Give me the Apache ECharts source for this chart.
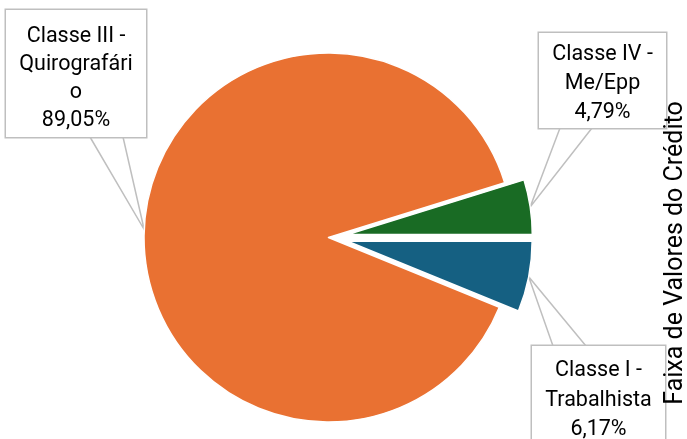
<!DOCTYPE html>
<html>
<head>
<meta charset="utf-8">
<script src="https://cdn.jsdelivr.net/npm/echarts@6/dist/echarts.min.js"></script>
<style>
html,body{margin:0;padding:0;background:#fff;}
#chart{width:687px;height:439px;}
</style>
</head>
<body>
<div id="chart"></div>
<script>
// ---- data ----
var categories = ['Classe I - Trabalhista', 'Classe III - Quirografário', 'Classe IV - Me/Epp'];
var labelTexts = ['Classe I -\nTrabalhista', 'Classe III -\nQuirografári\no', 'Classe IV -\nMe/Epp'];
var values = [6.17, 89.05, 4.79];
var colors = ['#156082', '#E97132', '#196B24'];
var exploded = [true, false, true];
var axisTitle = 'Faixa de Valores do Crédito';

// ---- layout ----
var CX = 328.5, CY = 237.5, R = 184.5, EXPLODE = 19.5;
// label boxes: left, top, width, line height, padding top/bottom, callout anchor points on box edge
var boxes = [
  {x: 531, y: 346, w: 135, lh: 29.5, pt: 10, pb: 2, a: [553, 346], b: [586, 346]},
  {x: 5, y: 10, w: 142, lh: 28, pt: 13, pb: 2, a: [90, 137], b: [123, 137]},
  {x: 538, y: 33, w: 129, lh: 29, pt: 7, pb: 1, a: [560, 128], b: [592, 128]}
];

var total = values.reduce(function (s, v) { return s + v; }, 0);
function fmtPct(v) { return v.toFixed(2).replace('.', ',') + '%'; }

var series = [];
var cum = 0;
values.forEach(function (v, i) {
  var mid = (cum + v / 2) / total * 2 * Math.PI; // clockwise from 3 o'clock
  cum += v;
  var off = exploded[i] ? EXPLODE : 0;
  var cx = CX + off * Math.cos(mid);
  var cy = CY + off * Math.sin(mid);
  var px = cx + R * Math.cos(mid);
  var py = cy + R * Math.sin(mid);
  var bx = boxes[i];
  series.push({
    type: 'pie',
    center: [cx, cy],
    radius: [0, R],
    startAngle: 0,
    clockwise: true,
    silent: true,
    animation: false,
    avoidLabelOverlap: false,
    itemStyle: {borderColor: '#ffffff', borderWidth: 1.5},
    labelLine: {show: true, length: 10, length2: 10, lineStyle: {color: '#bfbfbf', width: 1.5}},
    labelLayout: (function (bx, px, py) {
      return function (params) {
        return {
          x: bx.x + bx.w / 2, y: bx.y, align: 'center', verticalAlign: 'top',
          labelLinePoints: [bx.a, [px, py], bx.b]
        };
      };
    })(bx, px, py),
    data: categories.map(function (c, j) {
      var visible = j === i;
      return {
        name: c,
        value: values[j],
        itemStyle: {color: visible ? colors[j] : 'rgba(0,0,0,0)', borderColor: visible ? '#ffffff' : 'rgba(0,0,0,0)'},
        label: {
          show: visible,
          position: 'outside',
          formatter: labelTexts[j] + '\n' + fmtPct(values[j]),
          fontFamily: 'Roboto',
          fontSize: 21.5,
          lineHeight: bx.lh,
          color: '#000',
          align: 'center',
          verticalAlign: 'top',
          width: bx.w - 2,
          backgroundColor: '#ffffff',
          borderColor: '#bfbfbf',
          borderWidth: 1.5,
          padding: [bx.pt, 0, bx.pb, 0]
        },
        labelLine: {show: visible}
      };
    })
  });
});

var chart = echarts.init(document.getElementById('chart'), null, {renderer: 'canvas'});
chart.setOption({
  backgroundColor: '#ffffff',
  animation: false,
  series: series,
  graphic: [{
    type: 'text',
    x: 675.5, y: 253,
    z: 10,
    rotation: Math.PI / 2,
    style: {
      text: axisTitle,
      fontFamily: 'Roboto',
      fontSize: 25,
      fill: '#000',
      align: 'center',
      verticalAlign: 'middle'
    }
  }]
});
</script>
</body>
</html>
